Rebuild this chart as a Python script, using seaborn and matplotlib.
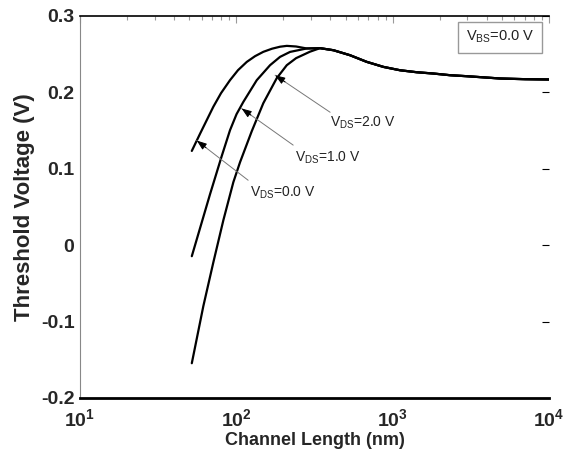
import numpy as np
import pandas as pd
import matplotlib
matplotlib.use("Agg")
import matplotlib.pyplot as plt
import seaborn as sns
from matplotlib.ticker import FixedLocator, NullFormatter

# ---- data ----
L_vds0 = [51.9, 58.6, 71.3, 79.8, 91.1, 102.5, 116.6, 131.7, 148.8, 169.2, 190.4, 210.2, 241, 282]
V_vds0 = [0.1234, 0.1459, 0.1813, 0.199, 0.216, 0.2291, 0.2399, 0.2474, 0.2531, 0.2572, 0.2598, 0.2609, 0.2601, 0.2575]

L_vds1 = [51.9, 58.6, 67.9, 80.6, 91.1, 100.3, 110.9, 135.1, 164.3, 190.4, 220.6, 282]
V_vds1 = [-0.0144, 0.0223, 0.0668, 0.1165, 0.1505, 0.1715, 0.1876, 0.216, 0.2356, 0.2465, 0.253, 0.2575]

L_vds2 = [51.9, 61.5, 71.3, 82.6, 95.7, 105.6, 125.5, 148.8, 181.3, 210.2, 241, 296]
V_vds2 = [-0.1545, -0.0798, -0.0223, 0.0327, 0.0825, 0.1086, 0.1492, 0.1859, 0.2186, 0.2356, 0.2448, 0.2533]

L_tail = [343, 418, 533, 682, 872, 1114, 1425, 1820, 2329, 2976, 4866, 7031, 10000]
V_tail = [0.2579, 0.2552, 0.2487, 0.240, 0.2334, 0.229, 0.2264, 0.2247, 0.2225, 0.2212, 0.2182, 0.2173, 0.2169]

series_names = ["0.0", "1.0", "2.0"]
x_ticks = [10, 100, 1000, 10000]
x_ticklabels = [r"$\mathbf{10^{1}}$", r"$\mathbf{10^{2}}$", r"$\mathbf{10^{3}}$", r"$\mathbf{10^{4}}$"]
y_ticks = [-0.2, -0.1, 0.0, 0.1, 0.2, 0.3]
y_ticklabels = ["-0.2", "-0.1", "0", "0.1", "0.2", "0.3"]

rows = []
for name, Ls, Vs in zip(series_names, [L_vds0, L_vds1, L_vds2], [V_vds0, V_vds1, V_vds2]):
    for l, v in zip(list(Ls) + L_tail, list(Vs) + V_tail):
        rows.append({"L": l, "V": v, "VDS": name})
df = pd.DataFrame(rows)

sns.set_style("white")
plt.rcParams["font.family"] = ["Liberation Sans", "DejaVu Sans"]
plt.rcParams["mathtext.fontset"] = "custom"
plt.rcParams["mathtext.rm"] = "Liberation Sans"
plt.rcParams["mathtext.bf"] = "Liberation Sans:bold"

fig = plt.figure(figsize=(5.71, 4.62), dpi=100)
ax = fig.add_axes([80 / 571, 1 - 398 / 462, 469 / 571, 382 / 462])

sns.lineplot(data=df, x="L", y="V", hue="VDS", palette=["black"] * 3,
             linewidth=1.6, legend=False, ax=ax, estimator=None, sort=False)

ax.set_xscale("log")
ax.set_xlim(10, 10000)
ax.set_ylim(-0.2, 0.3)

ax.xaxis.set_major_locator(FixedLocator(x_ticks))
ax.set_xticklabels(x_ticklabels)
minor = [m * 10 ** e for e in range(1, 4) for m in range(2, 10)]
ax.xaxis.set_minor_locator(FixedLocator(minor))
ax.xaxis.set_minor_formatter(NullFormatter())
ax.set_yticks(y_ticks)
ax.set_yticklabels(y_ticklabels)

ax.tick_params(which="both", direction="in", top=True, right=True, color="#9a9a9a")
ax.tick_params(which="major", length=5, width=0.8, labelsize=14, pad=4)
ax.tick_params(axis="x", which="major", pad=7)
ax.tick_params(which="minor", length=3, width=0.8)
ax.tick_params(axis="y", which="major", right=True, color="black")
for lab in ax.get_yticklabels():
    lab.set_fontweight("bold")

ax.spines["left"].set_color("#888888")
ax.spines["left"].set_linewidth(0.8)
ax.spines["right"].set_visible(False)
ax.spines["top"].set_color("black")
ax.spines["top"].set_linewidth(1.2)
ax.spines["bottom"].set_color("black")
ax.spines["bottom"].set_linewidth(2.0)

ax.set_xlabel("Channel Length (nm)", fontsize=13, fontweight="bold", labelpad=2)
ax.set_ylabel("Threshold Voltage (V)", fontsize=16, fontweight="bold", labelpad=4)

# annotations: (tip L, tip V, line end L, line end V, text L, text V, label)
ann = [
    (177, 0.2225, 398, 0.174, 398, 0.150, r"$\mathregular{V_{DS}}$=2.0 V"),
    (108, 0.179, 231, 0.131, 236, 0.104, r"$\mathregular{V_{DS}}$=1.0 V"),
    (55.8, 0.137, 119, 0.085, 122, 0.058, r"$\mathregular{V_{DS}}$=0.0 V"),
]
for tl, tv, el, ev, xl, xv, txt in ann:
    ax.annotate("", xy=(tl, tv), xytext=(el, ev),
                arrowprops=dict(arrowstyle="-", color="#777777", lw=0.7,
                                shrinkA=0, shrinkB=0))
    ax.annotate("", xy=(tl, tv), xytext=(tl * (el / tl) ** 0.18, tv + (ev - tv) * 0.18),
                arrowprops=dict(arrowstyle="-|>,head_length=0.6,head_width=0.22",
                                color="black", lw=0.7, shrinkA=0, shrinkB=0))
    ax.text(xl, xv, txt, fontsize=10, color="#222222", ha="left", va="bottom")

ax.text(4864, 0.2725, r"$\mathregular{V_{BS}}$=0.0 V", fontsize=10.5, color="#222222",
        ha="center", va="center",
        bbox=dict(boxstyle="square,pad=0.5", facecolor="white", edgecolor="#999999", lw=1.0))

fig.savefig("out.png", dpi=100)
